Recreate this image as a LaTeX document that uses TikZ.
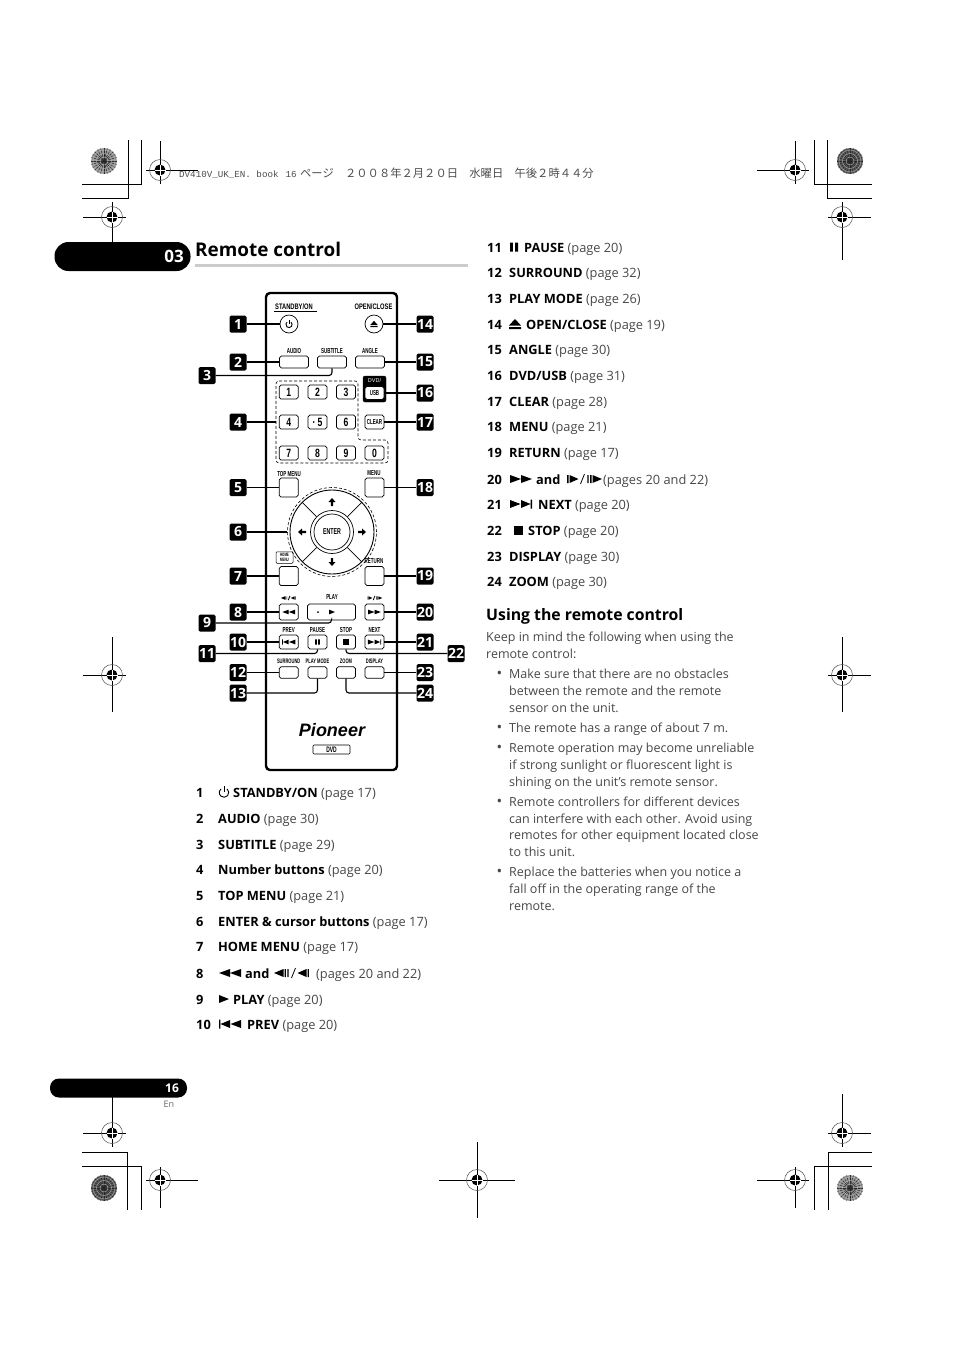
\documentclass[tikz,border=0pt]{standalone}
\usepackage{fontspec}
\setmainfont{Open Sans}
\newfontfamily\btnfont[FakeStretch=.62]{Liberation Sans}
\newfontfamily\topfont[FakeStretch=.72]{Liberation Sans}
\newfontfamily\logofont{Liberation Sans}
\newfontfamily\hdrmono{Liberation Mono}
\newfontfamily\cjk{Noto Sans CJK JP}
\newcommand{\pgno}[1]{{\color{black!72}(page #1)}}
\tikzset{
  rowtxt/.style={anchor=base west,inner sep=0pt,yshift=-5pt,font=\fontsize{12.8}{14}\selectfont},
  bodytxt/.style={rowtxt,text=black!72,font=\fontsize{12.5}{14}\selectfont},
  tag/.style={fill=black,rounded corners=1.5pt,text=white,inner sep=0pt,minimum size=17pt,font=\fontsize{14}{15}\selectfont\bfseries},
  callout/.style={line width=1.1pt,rounded corners=3pt},
  rbtn/.style={draw,rounded corners=1.8pt,line width=.7pt,inner sep=0pt,minimum width=19pt,minimum height=14pt,font=\topfont\fontsize{12}{12}\selectfont\bfseries},
  lbl/.style={inner sep=0pt,font=\btnfont\fontsize{7.2}{7.5}\selectfont\bfseries},
  toplbl/.style={inner sep=0pt,font=\topfont\fontsize{8}{8.5}\selectfont\bfseries},
  cropln/.style={line width=.8pt},
  rewic/.pic={\fill (-11,0) -- (0,-4) -- (0,4) -- cycle (0,0) -- (11,-4) -- (11,4) -- cycle;},
  playic/.pic={\fill (-5,-4) -- (5,0) -- (-5,4) -- cycle;},
  previc/.pic={\fill (-11,-4.5) rectangle (-9.7,4.5) (-9.5,0) -- (0,-4) -- (0,4) -- cycle (0.5,0) -- (11,-4) -- (11,4) -- cycle;},
  pauseic/.pic={\fill (-4,-4.5) rectangle (-1.2,4.5) (1.2,-4.5) rectangle (4,4.5);},
  stopic/.pic={\fill (-4.5,-4.5) rectangle (4.5,4.5);},
  ejectic/.pic={\fill (-6,1.5) -- (0,-5) -- (6,1.5) -- cycle (-6,3) rectangle (6,5);},
  powic/.pic={\draw[line width=.9pt] (-50:5) arc[start angle=50,end angle=-230,radius=5pt]; \draw[line width=.9pt] (0,-6.5) -- (0,-1);},
  stepic/.pic={\fill (-18.5,0) -- (-9,-4) -- (-9,4) -- cycle (-8,-4) rectangle (-6.6,4) (-5.2,-4) rectangle (-3.8,4)
    (5,0) -- (14,-4) -- (14,4) -- cycle (15,-4) rectangle (16.4,4); \draw[line width=.8pt] (-1,5) -- (3,-5);},
  stepfwic/.pic={\fill (18.5,0) -- (9,-4) -- (9,4) -- cycle (8,-4) rectangle (6.6,4) (5.2,-4) rectangle (3.8,4)
    (-5,0) -- (-14,-4) -- (-14,4) -- cycle (-15,-4) rectangle (-16.4,4); \draw[line width=.8pt] (-3,5) -- (1,-5);},
  arrowic/.pic={\fill (0,-4) -- (3.5,0) -- (1.1,0) -- (1.1,4) -- (-1.1,4) -- (-1.1,0) -- (-3.5,0) -- cycle;},
  regmark/.pic={\draw[black!70,line width=.5pt] (0,0) circle (10.5pt); \fill (0,0) circle (5.5pt);
    \draw[white,line width=.7pt] (-5.5,0) -- (5.5,0) (0,-5.5) -- (0,5.5);},
  burst/.pic={\fill[#1] (0,0) circle (13pt);
    \foreach \a in {0,15,...,345} \draw[black!85,line width=.45pt] (0,0) -- (\a:13);
    \foreach \r in {4,7.5,11} \draw[white!75!black,line width=.35pt] (0,0) circle (\r pt);}
}
\begin{document}
\begin{tikzpicture}[x=1pt,y=-1pt]
  \useasboundingbox (0,0) rectangle (954,1350);
  % printer marks
  \foreach \x/\y in {104/161,850/1188} \pic at (\x,\y) {burst=black!40};
  \foreach \x/\y in {850/161,104/1188} \pic at (\x,\y) {burst=black!65};
  \draw[cropln] (82,184) -- (141,184) -- (141,140) (82,198) -- (128,198) -- (128,140);
  \draw[cropln] (872,184) -- (814,184) -- (814,140) (872,198) -- (827,198) -- (827,140);
  \draw[cropln] (82,1152) -- (127,1152) -- (127,1210) (82,1166) -- (141,1166) -- (141,1210);
  \draw[cropln] (872,1152) -- (828,1152) -- (828,1210) (872,1166) -- (814,1166) -- (814,1210);
  \draw[cropln] (146,170) -- (198,170) (160,141) -- (160,184) (757,170) -- (809,170) (795,141) -- (795,184);
  \draw[cropln] (83,217) -- (126,217) (112,202) -- (112,243) (828,217) -- (871,217) (842,202) -- (842,260);
  \draw[cropln] (83,675) -- (126,675) (112,637) -- (112,712) (828,675) -- (871,675) (842,637) -- (842,712);
  \draw[cropln] (83,1133) -- (126,1133) (112,1097) -- (112,1147) (828,1133) -- (871,1133) (842,1094) -- (842,1147);
  \draw[cropln] (146,1180) -- (198,1180) (160,1167) -- (160,1208) (757,1180) -- (809,1180) (795,1167) -- (795,1208);
  \draw[cropln] (439,1180) -- (515,1180) (477,1142) -- (477,1218);
  \foreach \x/\y in {160/170,795/170,112/217,842/217,112/675,842/675,112/1133,842/1133,160/1180,795/1180,477/1180}
    \pic at (\x,\y) {regmark};
  \node[anchor=base west,inner sep=0pt,text=black!70] (hdr) at (179,177) {\hdrmono\fontsize{9.2}{10}\selectfont DV410V\_UK\_EN. book\hspace{7pt}16\hspace{3.5pt}\cjk\fontsize{11.3}{12}\selectfont ページ　２００８年２月２０日　水曜日　午後２時４４分};
  % heading
  \node[fill=black,rounded corners=14pt,minimum width=136pt,minimum height=29pt,inner sep=0pt] (chap) at (122.5,256.5) {};
  \node[text=white,inner sep=0pt,font=\fontsize{17}{18}\selectfont\bfseries] (chapno) at (174,256) {03};
  \node[anchor=base west,inner sep=0pt,font=\fontsize{18.9}{22}\selectfont\bfseries] (title) at (195,256) {Remote control};
  \fill[black!20] (195,264) rectangle (468,267);
  \node[fill=black,rounded corners=9pt,minimum width=137pt,minimum height=19pt,inner sep=0pt] (pagepill) at (118.5,1088) {};
  \node[text=white,inner sep=0pt,font=\fontsize{12}{13}\selectfont\bfseries] (pageno) at (172,1088) {16};
  \node[text=black!60,inner sep=0pt,font=\fontsize{9}{10}\selectfont] (lang) at (169,1104) {En};
  % remote body
  \draw[line width=2.4pt,rounded corners=4pt] (266,293) rectangle (397,770);
  \node[toplbl] (lstandby) at (294,307) {STANDBY/ON};
  \draw[line width=.6pt] (274,311.5) -- (317,311.5);
  \node[toplbl] (lopen) at (373.5,307) {OPEN/CLOSE};
  \node[draw,circle,line width=.7pt,minimum size=18pt,inner sep=0pt] (powerbtn) at (289,324) {};
  \node[draw,circle,line width=.7pt,minimum size=18pt,inner sep=0pt] (ejectbtn) at (374,324) {};
  \pic[scale=.62] at (289,324.5) {powic};
  \pic[scale=.62] at (374,324) {ejectic};
  \foreach \nm/\x/\t in {audio/294/AUDIO,subtitle/332/SUBTITLE,angle/370/ANGLE} {
    \node[rbtn,minimum width=29pt,minimum height=12pt] (\nm) at (\x,362) {};
    \node[lbl] (l\nm) at (\x,351) {\t};
  }
  \draw[densely dashed,line width=.6pt,rounded corners=3pt] (276,381) -- (358,381) -- (358,440) -- (388,440) -- (388,463) -- (276,463) -- cycle;
  \coordinate (numedge) at (276,422);
  \foreach \n/\x/\y in {1/288.7/392,2/317.5/392,3/346/392,4/288.7/422,6/346/422,7/288.7/453,8/317.5/453,9/346/453,0/374.5/453}
    \node[rbtn] (num\n) at (\x,\y) {\n};
  \node[rbtn] (num5) at (317.5,422) {·\,5};
  \node[draw,fill=black,rounded corners=2pt,minimum width=23pt,minimum height=26pt,inner sep=0pt] (dvdbox) at (374.5,389) {};
  \node[text=white,inner sep=0pt,font=\logofont\fontsize{5.5}{6}\selectfont] (ldvd) at (374.5,380.5) {DVD/};
  \node[rbtn,fill=white,font=\btnfont\fontsize{7.2}{7.5}\selectfont\bfseries,minimum height=13pt] (usb) at (374.5,393) {USB};
  \node[rbtn,font=\btnfont\fontsize{7.2}{7.5}\selectfont\bfseries] (clear) at (374.5,422) {CLEAR};
  \node[rbtn,minimum height=19pt] (topmenu) at (288.7,487.5) {};
  \node[lbl] (ltopmenu) at (289,474) {TOP MENU};
  \node[rbtn,minimum height=19pt] (menu) at (374.5,487.5) {};
  \node[lbl] (lmenu) at (374,473) {MENU};
  % cursor dial
  \node[draw,circle,densely dashed,line width=.6pt,minimum size=89pt,inner sep=0pt] (dialout) at (332,532) {};
  \node[draw,circle,line width=.9pt,minimum size=84pt,inner sep=0pt] (dialring) at (332,532) {};
  \node[draw,circle,line width=.7pt,minimum size=43pt,inner sep=0pt] (dialin) at (332,532) {};
  \node[draw,circle,line width=.7pt,minimum size=36pt,inner sep=0pt,font=\btnfont\fontsize{8.5}{9}\selectfont\bfseries] (enter) at (332,532) {ENTER};
  \foreach \a in {45,135,225,315} \draw[line width=.7pt] (dialin.\a) -- (dialring.\a);
  \pic at (332,502) {arrowic};
  \pic[rotate=90] at (302,532) {arrowic};
  \pic[rotate=180] at (332,562) {arrowic};
  \pic[rotate=270] at (362,532) {arrowic};
  \node[draw,rounded corners=1pt,line width=.5pt,minimum width=17pt,minimum height=11.5pt,inner sep=0pt,align=center,font=\btnfont\fontsize{4.8}{5}\selectfont\bfseries] (lhome) at (284.5,557.5) {HOME\\MENU};
  \node[rbtn,minimum height=19pt] (home) at (288.7,576) {};
  \node[rbtn,minimum height=19pt] (return) at (374.5,576) {};
  \node[lbl] (lreturn) at (374,561.5) {RETURN};
  % transport buttons
  \node[rbtn,minimum height=16pt] (rev) at (288.7,612) {};
  \node[rbtn,minimum height=16pt,minimum width=48pt] (play) at (331.5,612) {};
  \node[rbtn,minimum height=16pt] (fwd) at (374.5,612) {};
  \node[lbl] (lplay) at (332,597.5) {PLAY};
  \pic[scale=.42] at (288.7,598) {stepic};
  \pic[scale=.42] at (374.5,598) {stepfwic};
  \pic[scale=.58] at (288.7,612) {rewic};
  \pic[scale=.58,xscale=-1] at (374.5,612) {rewic};
  \fill (318,612) circle (1pt);
  \pic[scale=.6] at (332,612) {playic};
  \foreach \nm/\x/\t in {prev/288.7/PREV,pause/317.5/PAUSE,stop/346/STOP,next/374.5/NEXT} {
    \node[rbtn] (\nm) at (\x,642) {};
    \node[lbl] (l\nm) at (\x,630) {\t};
  }
  \pic[scale=.6] at (288.7,642) {previc};
  \pic[scale=.6] at (317.5,642) {pauseic};
  \pic[scale=.6] at (346,642) {stopic};
  \pic[scale=.6,xscale=-1] at (374.5,642) {previc};
  \foreach \nm/\x/\t in {surround/288.7/SURROUND,playmode/317.5/PLAY MODE,zoom/346/ZOOM,display/374.5/DISPLAY} {
    \node[rbtn,minimum height=11.5pt] (\nm) at (\x,672.5) {};
    \node[lbl,font=\btnfont\fontsize{6.5}{7}\selectfont\bfseries] (l\nm) at (\x,661) {\t};
  }
  \node[inner sep=0pt,font=\logofont\fontsize{18}{19}\selectfont\bfseries\itshape] (logo) at (332,730) {Pioneer};
  \node[draw,rounded corners=1pt,line width=.6pt,minimum width=37pt,minimum height=9pt,inner sep=0pt,font=\btnfont\fontsize{8}{8}\selectfont\bfseries] (dvdlbl) at (331.5,749.5) {DVD};
  % numbered tags and their leaders
  \foreach \n/\y in {1/324,2/362,4/422,5/487.5,6/532,7/576,8/612,10/642,12/672.5,13/693}
    \node[tag] (tag\n) at (238,\y) {\n};
  \foreach \n/\y in {3/375.5,9/623,11/653.5}
    \node[tag] (tag\n) at (207,\y) {\n};
  \foreach \n/\y in {14/324,15/362,16/393,17/422,18/487.5,19/576,20/612,21/642,23/672.5,24/693}
    \node[tag] (tag\n) at (425,\y) {\n};
  \node[tag] (tag22) at (456,653.5) {22};
  \foreach \n/\b in {1/powerbtn,2/audio,4/numedge,5/topmenu,6/dialout,7/home,8/rev,10/prev,12/surround,
    14/ejectbtn,15/angle,16/usb,17/clear,18/menu,19/return,20/fwd,21/next,23/display}
    \draw[callout] (tag\n) -- (\b);
  \foreach \n/\b in {3/subtitle,9/play,11/pause,13/playmode,24/zoom,22/stop}
    \draw[callout] (tag\n) -| (\b.south);
  % left list
  \foreach \n/\y/\x/\t/\p in {1/792/233/{STANDBY/ON}/17,2/818/218/AUDIO/30,3/844/218/SUBTITLE/29,4/869/218/Number buttons/20,
    5/895/218/TOP MENU/21,6/921/218/ENTER \& cursor buttons/17,7/946/218/HOME MENU/17,9/999/233/PLAY/20,10/1024/247/PREV/20} {
    \node[rowtxt] (no\n) at (196,\y) {\textbf{\n}};
    \node[rowtxt] (row\n) at (\x,\y) {\textbf{\t} \pgno{\p}};
  }
  \node[rowtxt] (no8) at (196,973) {\textbf{8}};
  \node[rowtxt] (row8a) at (245,973) {\textbf{and}};
  \node[rowtxt] (row8b) at (316,973) {{\color{black!72}(pages 20 and 22)}};
  \pic[scale=.95] at (224,792.5) {powic};
  \pic at (230,973) {rewic};
  \pic at (292.5,973) {stepic};
  \pic at (224,999) {playic};
  \pic at (230,1024) {previc};
  % right list
  \foreach \n/\y/\x/\t/\p in {11/247/524/PAUSE/20,12/272/509/SURROUND/32,13/298/509/PLAY MODE/26,14/324/526/{OPEN/CLOSE}/19,
    15/349/509/ANGLE/30,16/375/509/{DVD/USB}/31,17/401/509/CLEAR/28,18/426/509/MENU/21,19/452/509/RETURN/17,
    21/504/538/NEXT/20,22/530/528/STOP/20,23/556/509/DISPLAY/30,24/581/509/ZOOM/30} {
    \node[rowtxt] (no\n) at (487,\y) {\textbf{\n}};
    \node[rowtxt] (row\n) at (\x,\y) {\textbf{\t} \pgno{\p}};
  }
  \node[rowtxt] (no20) at (487,479) {\textbf{20}};
  \node[rowtxt] (row20a) at (536,479) {\textbf{and}};
  \node[rowtxt] (row20b) at (603,479) {{\color{black!72}(pages 20 and 22)}};
  \pic at (514,247) {pauseic};
  \pic at (515,324) {ejectic};
  \pic[xscale=-1] at (521,479) {rewic};
  \pic at (583.5,479) {stepfwic};
  \pic[xscale=-1] at (521,504) {previc};
  \pic at (518.5,530) {stopic};
  % using the remote
  \node[anchor=base west,inner sep=0pt,font=\fontsize{15.8}{17}\selectfont\bfseries] (using) at (486,620) {Using the remote control};
  \foreach \n/\x/\y/\t in {a/486/636/Keep in mind the following when using the,b/486/653/remote control:,
    c/509/673/Make sure that there are no obstacles,d/509/690/between the remote and the remote,e/509/707/sensor on the unit.,
    f/509/727/The remote has a range of about 7 m.,
    g/509/747/Remote operation may become unreliable,h/509/764/if strong sunlight or fluorescent light is,i/509/781/shining on the unit’s remote sensor.,
    j/509/801/Remote controllers for different devices,k/509/818/can interfere with each other. Avoid using,l/509/834/remotes for other equipment located close,m/509/851/to this unit.,
    n/509/871/Replace the batteries when you notice a,o/509/888/fall off in the operating range of the,p/509/905/remote.}
    \node[bodytxt] (body\n) at (\x,\y) {\t};
  \foreach \y in {673,727,747,801,871}
    \node[rowtxt,text=black!72,yshift=-.5pt,font=\fontsize{15}{15}\selectfont] (bul\y) at (496.5,\y) {•};
\end{tikzpicture}
\end{document}
